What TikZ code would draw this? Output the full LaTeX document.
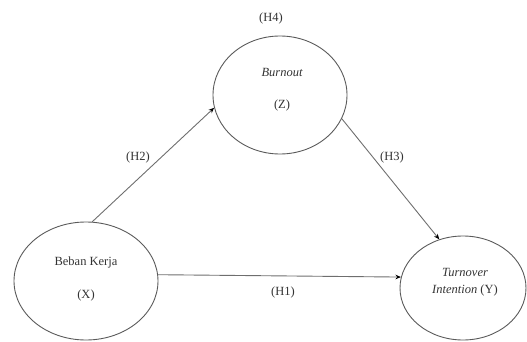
\documentclass[tikz,border=0pt]{standalone}
\usepackage{fontspec}
\setmainfont{Liberation Serif}
\usetikzlibrary{shapes.geometric,arrows.meta}
\definecolor{ink}{HTML}{333333}
\definecolor{rim}{HTML}{5A5A5A}
\definecolor{wire}{HTML}{6E6E6E}
\tikzset{
  var/.style={ellipse, draw=rim, line width=0.9pt, inner sep=0pt},
  txt/.style={text=ink, font=\fontsize{12.5}{14}\selectfont, inner sep=0pt},
  link/.style={draw=wire, line width=0.9pt,
    -{Stealth[length=5.5pt,width=4.5pt,black]}, shorten >=0pt}
}
\begin{document}
\begin{tikzpicture}[x=1pt,y=-1pt]
\useasboundingbox (0,0) rectangle (527,342);
% latent variables
\node[var, minimum width=134pt, minimum height=118pt] (z) at (280,95) {};
\node[var, minimum width=144pt, minimum height=118pt] (x) at (86,281) {};
\node[var, minimum width=126pt, minimum height=104pt] (y) at (463,288) {};
% variable names
\node[txt] (zname) at (282,72) {\itshape Burnout};
\node[txt] (zcode) at (282,105) {(Z)};
\node[txt] (xname) at (86,262) {Beban Kerja};
\node[txt] (xcode) at (86,295) {(X)};
\node[txt] (yname) at (465,272) {\itshape Turnover};
\node[txt] (ycode) at (465,290) {\itshape Intention \upshape(Y)};
% hypothesised paths
\draw[link] (x.84) -- (z.191);
\draw[link] (z.339) -- (y.116);
\draw[link] (x.5) -- (y.170);
% hypothesis labels
\node[txt] (h4) at (271,18) {(H4)};
\node[txt] (h2) at (138,157) {(H2)};
\node[txt] (h3) at (392,157) {(H3)};
\node[txt] (h1) at (283,292) {(H1)};
\end{tikzpicture}
\end{document}
